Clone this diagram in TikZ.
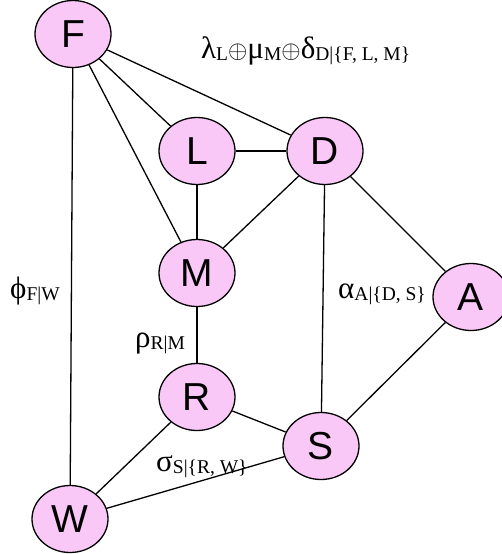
\documentclass[tikz,border=0pt]{standalone}
\usepackage{fontspec}
\setmainfont{Liberation Serif}
\newfontfamily\nodefont{Liberation Sans}
\newfontfamily\grfont{DejaVu Serif}
\usetikzlibrary{shapes.geometric}
\definecolor{nodepink}{RGB}{250,200,246}
\tikzset{
  vnode/.style={ellipse, draw=black, line width=1.3pt, fill=nodepink,
    minimum width=76pt, minimum height=67pt, inner sep=0pt,
    font=\nodefont\fontsize{39}{39}\selectfont},
  edge/.style={line width=1.3pt, black},
  lbl/.style={inner sep=0pt, anchor=base west}
}
\newcommand{\gr}[1]{{\fontsize{31}{31}\selectfont #1}}
\newcommand{\sbs}[1]{\raisebox{-2pt}{\fontsize{19.5}{19.5}\selectfont #1}}
\begin{document}
\begin{tikzpicture}[x=1pt,y=-1pt]
\useasboundingbox (0,0) rectangle (502,554);
\node[vnode] (F) at (73,34) {F};
\node[vnode] (L) at (197,151) {L};
\node[vnode] (D) at (325,151) {D};
\node[vnode] (M) at (197,273) {M};
\node[vnode] (A) at (471,297) {A};
\node[vnode] (R) at (197,397) {R};
\node[vnode] (S) at (321,446) {S};
\node[vnode] (W) at (70,519) {W};
\draw[edge] (F) -- (L);
\draw[edge] (F) -- (D);
\draw[edge] (F) -- (M);
\draw[edge] (F) -- (W);
\draw[edge] (L) -- (D);
\draw[edge] (L) -- (M);
\draw[edge] (D) -- (M);
\draw[edge] (D) -- (S);
\draw[edge] (D) -- (A);
\draw[edge] (M) -- (R);
\draw[edge] (R) -- (S);
\draw[edge] (R) -- (W);
\draw[edge] (S) -- (A);
\draw[edge] (W) -- (S);
\node[lbl] (l1) at (201,58) {\gr{λ}\sbs{L}\gr{$\oplus$}\gr{μ}\sbs{M}\gr{$\oplus$}\gr{δ}\sbs{D|\{F, L, M\}}};
\node[lbl] (l2) at (10,298) {\gr{ϕ}\sbs{F|W}};
\node[lbl] (l3) at (338,298) {\gr{α}\sbs{A|\{D, S\}}};
\node[lbl] (l4) at (135,347) {\gr{ρ}\sbs{R|M}};
\node[lbl] (l5) at (156,471) {\gr{σ}\sbs{S|\{R, W\}}};
\end{tikzpicture}
\end{document}
